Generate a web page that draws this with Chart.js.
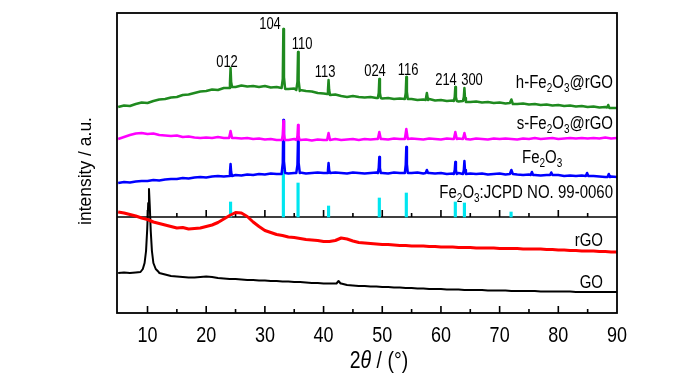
<!DOCTYPE html>
<html>
<head>
<meta charset="utf-8">
<script src="https://cdn.jsdelivr.net/npm/chart.js@4.4.1/dist/chart.umd.min.js"></script>
<style>
  html, body { margin: 0; padding: 0; background: #fff; }
  #wrap { width: 700px; height: 374px; position: relative; }
</style>
</head>
<body>
<div id="wrap"><canvas id="xrdChart"></canvas></div>
<script>
// 2θ grid (degrees)
const twoTheta = [5,6,7,8,9,10,11,12,13,14,15,16,17,18,19,20,21,22,23,24,25,26,27,28,29,30,
  31,32,33,34,35,36,37,38,39,40,41,42,43,44,45,46,47,48,49,50,51,52,53,54,55,56,57,58,59,60,
  61,62,63,64,65,66,67,68,69,70,71,72,73,74,75,76,77,78,79,80,81,82,83,84,85,86,87,88,89,90];

// background intensity (offset, a.u.) on the grid above
const hFe2O3Base = [206,207.5,207,209,210.5,210,212,213.5,214,215.5,216,218,218.5,220,221.5,222,223.5,223,225,225.5,
  226,227.5,226.5,227,226,227,225.5,226,225,224,224.5,223,222,221.5,220,219.5,218,218.5,217,216,
  217,216,215.5,216,215,214.5,215,214,214.5,213.5,214,213,213.5,214,212.5,213,212,212.5,211.5,212,
  211,211.5,210.5,211,210,210.5,209.5,210,209,209.5,208.5,209,208,208.5,207.5,208,207,207.5,206.5,207,
  206,206.5,205.5,206,205,205];
const sFe2O3Base = [174,176,178,179.5,180,179,179.5,178,177.5,177,177.5,176,176.5,175.5,175,175.5,175,176,175,175.5,
  175,174.5,175,174,174.5,173.5,174,173,173.5,173,174,173,173.5,172.5,173.5,173,173,174,173,173.5,
  174,173,174,173.5,174,174,173.5,174.5,174,173.5,174.5,174,173.5,174.5,174,173.5,174.5,174,174.5,174,
  173.5,174.5,174,173.5,174.5,174,174.5,174,173.5,174.5,174,175,174,174.5,175,174,174.5,175,174.5,175,
  174.5,175,174.5,175.5,174.5,175];
const fe2O3Base = [130,131,130.5,131.5,132,132,133,132.5,133.5,134,134,135,134.5,135.5,136,135.5,136.5,137,136.5,137,
  138,137.5,138.5,138,139,138.5,139.5,139,140,139.5,140,140.5,139.5,140,140.5,140,139.5,140.5,140,139.5,
  140.5,140,139.5,140,140.5,140,139.5,140.5,140,139.5,140,140.5,139.5,140,139.5,140,139,139.5,140,139,
  139.5,139,139.5,138.5,139,139.5,138.5,139,138.5,138,138.5,138,137.5,138,137.5,138,137,137.5,137,137.5,
  136.5,137,136.5,136,136.5,136];
const rGOBase = [101,100,98.5,97,95,93.5,91,89.5,88,86.5,85,85.5,84,84.5,85,86.5,88,90.5,94,97.5,
  100.5,100,96.5,91,86.5,82.5,80.5,78.5,77.5,76,75.5,74.5,73.5,73,72.5,71.5,71.5,72.5,75,74,
  72,70.5,70,69.5,69,68.5,68.5,68,67.5,67.5,67,67,67,66.5,66.5,66,66,66,65.5,65.5,
  65.5,65,65,65,65,64.5,64.5,64.5,64.5,64,64,64,64,63.5,63.5,63,63,62.5,62.5,62,
  62,62,61.5,61.5,61,61];
const gOBase = [40,40.5,40,40.5,41,41,41,40,38.5,37,36.5,36,35.5,35.5,36,36.5,36,35,34.5,34,
  34,33.5,33,33,32.5,32.5,32,32,31.5,31.5,31,31,30.5,30,30,29.5,29.5,29.5,29.5,28,
  27.5,27,27,26.5,26.5,26,26,25.5,25.5,25,25,24.5,24.5,24,24,24,23.5,23.5,23.5,23,
  23,23,23,22.5,22.5,22.5,22.5,22,22,22,22,22,21.5,21.5,21.5,21.5,21.5,21.5,21,21,
  21,21,21,21,21,21];

// diffraction peaks: [2θ, intensity] points per reflection
const hFe2O3Peaks = [
  [[23.9,225],[24.05,230],[24.15,245],[24.25,231],[24.4,226]],
  [[32.85,225],[33.05,234],[33.15,284],[33.25,236],[33.45,224]],
  [[35.35,223],[35.55,231],[35.65,261],[35.75,232],[35.95,222]],
  [[40.6,219],[40.75,223],[40.85,233],[40.95,223],[41.1,218]],
  [[49.25,215],[49.4,220],[49.5,234],[49.6,220],[49.75,215]],
  [[53.85,214],[54.0,220],[54.1,236],[54.2,221],[54.35,214]],
  [[57.4,213],[57.6,220],[57.8,213]],
  [[62.2,212],[62.35,216],[62.45,226],[62.55,216],[62.7,212]],
  [[63.75,212],[63.9,216],[64.0,225],[64.1,215],[64.25,211]],
  [[71.75,210],[72.0,213.5],[72.25,209]],
  [[88.3,205.5],[88.5,208],[88.7,205]]
];
const sFe2O3Peaks = [
  [[23.9,175],[24.15,182],[24.4,175]],
  [[32.9,173],[33.05,178],[33.15,192],[33.25,179],[33.4,173]],
  [[35.4,173],[35.55,177],[35.65,188],[35.75,177],[35.9,173]],
  [[40.6,173],[40.85,180],[41.1,173]],
  [[49.25,174],[49.5,181],[49.75,174]],
  [[53.85,174],[54.1,184],[54.35,174]],
  [[62.2,174],[62.45,181],[62.7,174]],
  [[63.75,174],[64.0,180],[64.25,174]]
];
const fe2O3Peaks = [
  [[23.9,137],[24.05,141],[24.15,149],[24.25,141],[24.4,137]],
  [[32.85,139],[33.05,150],[33.15,193],[33.25,152],[33.45,140]],
  [[35.35,140],[35.55,148],[35.65,175],[35.75,150],[35.95,140]],
  [[40.6,140],[40.75,143],[40.85,150],[40.95,143],[41.1,140]],
  [[49.25,140],[49.4,145],[49.5,156],[49.6,145],[49.75,140]],
  [[53.85,140],[54.0,148],[54.1,166],[54.2,149],[54.35,140]],
  [[57.4,140],[57.6,143],[57.8,140]],
  [[62.2,139],[62.35,143],[62.45,151],[62.55,143],[62.7,139]],
  [[63.75,139],[63.9,143],[64.0,152],[64.1,143],[64.25,139]],
  [[71.75,139],[72.0,143],[72.25,139]],
  [[75.3,138],[75.5,141],[75.7,138]],
  [[78.6,138],[78.8,140.5],[79.0,138]],
  [[84.7,137],[84.9,140],[85.1,137]],
  [[88.4,136],[88.6,139],[88.8,136]]
];
const rGOPeaks = [];
const gOPeaks = [
  [[8.8,41],[9.2,44],[9.5,50],[9.75,62],[9.95,84],[10.12,110],[10.25,124],[10.38,108],[10.55,82],[10.75,62],[11.0,50],[11.4,44],[11.9,41]],
  [[42.2,29.5],[42.55,32],[42.9,29.5]]
];

// JCPDS 99-0060 reference lines
const refAngles = [24.15, 33.15, 35.65, 40.85, 49.5, 54.1, 62.45, 64.0, 71.95];
const refTops = [111, 143, 130, 107, 115, 120, 111, 110, 101];
const refBase = 96;

const peakLabels = ['012', '104', '110', '113', '024', '116', '214', '300'];
const xTickLabels = [10, 20, 30, 40, 50, 60, 70, 80, 90];

// label placement (px)
const peakLabelPos = [[227,67],[270,29],[302,49],[325,77],[375,76],[408,75],[446,85],[472,85]];
const seriesLabels = [
  ['h-Fe_2O_3@rGO', 613, 88, 'right'],
  ['s-Fe_2O_3@rGO', 613, 129, 'right'],
  ['Fe_2O_3', 522, 163, 'left'],
  ['Fe_2O_3:JCPD NO. 99-0060', 613, 198, 'right'],
  ['rGO', 603, 246, 'right'],
  ['GO', 603, 288, 'right']
];

const FONT = "'Liberation Sans', Arial, sans-serif";
const STRETCH = 1.2;

function buildSeries(base, peaks) {
  const pts = [];
  twoTheta.forEach((t, i) => {
    const inPeak = peaks.some(g => t >= g[0][0] && t <= g[g.length - 1][0]);
    if (!inPeak) pts.push({ x: t, y: base[i] });
  });
  peaks.forEach(g => g.forEach(p => pts.push({ x: p[0], y: p[1] })));
  pts.sort((a, b) => a.x - b.x);
  return pts;
}

// text with subscripts written as _n, vertically stretched like the original figure
function drawFormula(ctx, str, x, y, size, align) {
  const parts = str.split(/(_\d)/).filter(s => s.length);
  const mainFont = size + 'px ' + FONT;
  const subFont = Math.round(size * 0.68) + 'px ' + FONT;
  let w = 0;
  parts.forEach(p => {
    ctx.font = p[0] === '_' ? subFont : mainFont;
    w += ctx.measureText(p[0] === '_' ? p.slice(1) : p).width;
  });
  let cx = align === 'right' ? x - w : align === 'center' ? x - w / 2 : x;
  ctx.save();
  ctx.translate(0, y);
  ctx.scale(1, STRETCH);
  ctx.textAlign = 'left';
  ctx.textBaseline = 'alphabetic';
  ctx.fillStyle = '#000';
  parts.forEach(p => {
    const sub = p[0] === '_';
    const t = sub ? p.slice(1) : p;
    ctx.font = sub ? subFont : mainFont;
    ctx.fillText(t, cx, sub ? 3.2 : 0);
    cx += ctx.measureText(t).width;
  });
  ctx.restore();
}

const decorPlugin = {
  id: 'decor',
  beforeDatasetsDraw(chart) {
    const { ctx, chartArea: a, scales: { x, y } } = chart;
    const yb = y.getPixelForValue(refBase);
    ctx.save();
    ctx.strokeStyle = '#000';
    ctx.lineWidth = 1.6;
    ctx.beginPath();
    ctx.moveTo(a.left, yb);
    ctx.lineTo(a.right, yb);
    for (let v = 10; v < 90; v += 5) {
      const px = x.getPixelForValue(v);
      ctx.moveTo(px, yb);
      ctx.lineTo(px, yb - (v % 10 === 0 ? 7 : 4));
    }
    ctx.stroke();
    ctx.restore();
  },
  afterDraw(chart) {
    const { ctx, chartArea: a, scales: { x } } = chart;
    ctx.save();
    ctx.strokeStyle = '#000';
    ctx.lineWidth = 1.8;
    ctx.strokeRect(a.left, a.top, a.right - a.left, a.bottom - a.top);
    ctx.lineWidth = 1.6;
    ctx.beginPath();
    for (let v = 10; v < 90; v += 5) {
      const px = x.getPixelForValue(v);
      ctx.moveTo(px, a.bottom);
      ctx.lineTo(px, a.bottom - (v % 10 === 0 ? 7 : 4));
    }
    ctx.stroke();
    ctx.restore();

    xTickLabels.forEach(v => drawFormula(ctx, String(v), x.getPixelForValue(v), a.bottom + 28.5, 18, 'center'));
    peakLabels.forEach((t, i) => drawFormula(ctx, t, peakLabelPos[i][0], peakLabelPos[i][1], 13, 'center'));
    seriesLabels.forEach(s => drawFormula(ctx, s[0], s[1], s[2], 15, s[3]));

    // x title: 2θ / (°)
    ctx.save();
    ctx.translate(0, 368);
    ctx.scale(1, STRETCH);
    ctx.fillStyle = '#000';
    ctx.textBaseline = 'alphabetic';
    const pieces = [['2', ''], ['\u03b8', 'italic '], [' / (\u00b0)', '']];
    let w = 0;
    pieces.forEach(p => { ctx.font = p[1] + '19.5px ' + FONT; w += ctx.measureText(p[0]).width; });
    let cx = 379 - w / 2;
    pieces.forEach(p => {
      ctx.font = p[1] + '19.5px ' + FONT;
      ctx.fillText(p[0], cx, 0);
      cx += ctx.measureText(p[0]).width;
    });
    ctx.restore();

    // y title
    ctx.save();
    ctx.translate(91, 171);
    ctx.rotate(-Math.PI / 2);
    ctx.font = '17.5px ' + FONT;
    ctx.fillStyle = '#000';
    ctx.textAlign = 'center';
    ctx.textBaseline = 'alphabetic';
    ctx.fillText('intensity / a.u.', 0, 0);
    ctx.restore();
  }
};

const lineSet = (label, data, color, width) => ({
  type: 'line', label, data, borderColor: color, borderWidth: width,
  pointRadius: 0, tension: 0, fill: false, borderJoinStyle: 'round'
});

new Chart(document.getElementById('xrdChart'), {
  type: 'line',
  data: {
    datasets: [
      lineSet('h-Fe2O3@rGO', buildSeries(hFe2O3Base, hFe2O3Peaks), '#1f8a1f', 2.5),
      lineSet('s-Fe2O3@rGO', buildSeries(sFe2O3Base, sFe2O3Peaks), '#ff00ff', 2.5),
      lineSet('Fe2O3', buildSeries(fe2O3Base, fe2O3Peaks), '#0000ff', 2.5),
      lineSet('rGO', buildSeries(rGOBase, rGOPeaks), '#ff0000', 3),
      lineSet('GO', buildSeries(gOBase, gOPeaks), '#000000', 2),
      {
        type: 'bar',
        label: 'Fe2O3 JCPD NO. 99-0060',
        data: refAngles.map((t, i) => ({ x: t, y: [refBase, refTops[i]] })),
        backgroundColor: '#00e6f0',
        borderWidth: 0,
        barThickness: 2.5
      }
    ]
  },
  options: {
    responsive: true,
    maintainAspectRatio: false,
    animation: false,
    layout: { padding: { left: 117, right: 83, top: 13, bottom: 61 } },
    plugins: { legend: { display: false }, tooltip: { enabled: false } },
    scales: {
      x: { type: 'linear', min: 4.8, max: 90, offset: false, display: false },
      y: { type: 'linear', min: 0, max: 300, display: false }
    }
  },
  plugins: [decorPlugin]
});
</script>
</body>
</html>
